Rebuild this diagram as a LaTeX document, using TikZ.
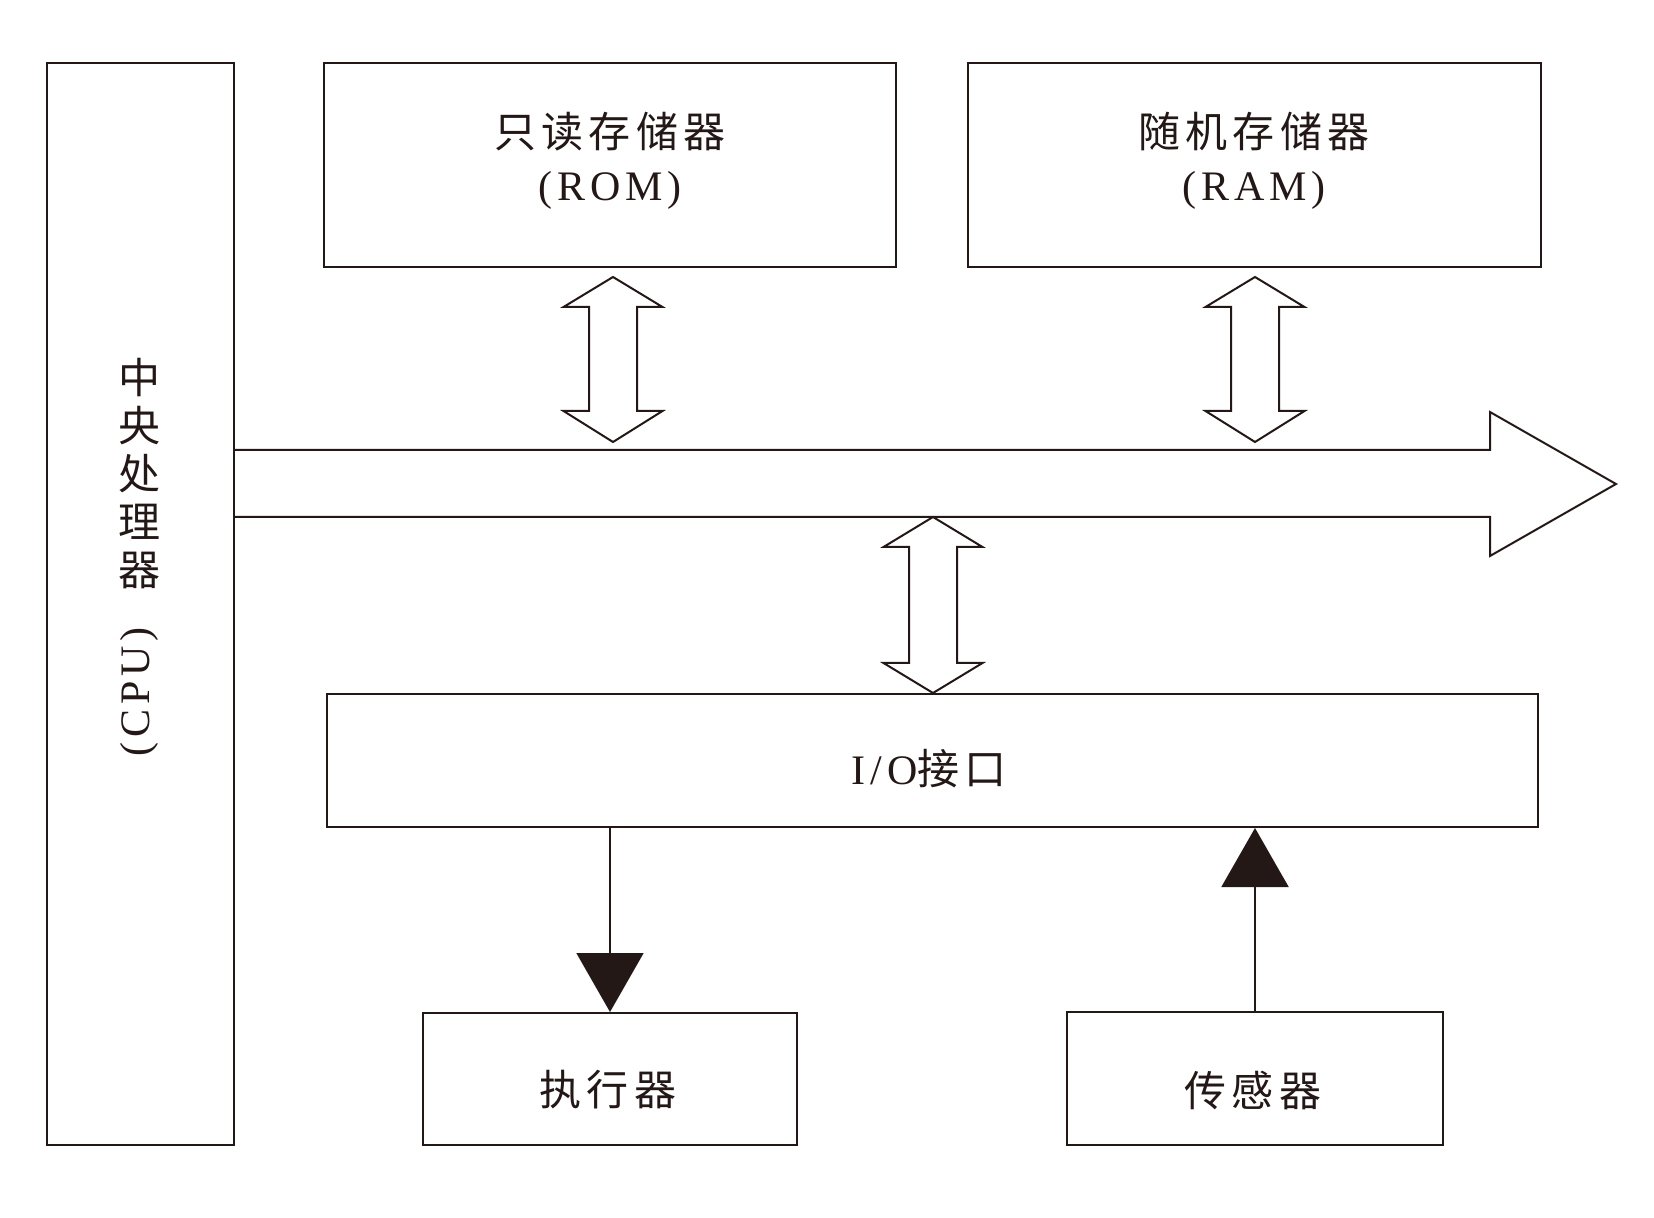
\documentclass[tikz,border=0pt]{standalone}
\usepackage{fontspec}
\setmainfont{Liberation Serif}[LetterSpace=12]
\newfontfamily\cjk{Noto Sans CJK SC}[LetterSpace=12]
\usetikzlibrary{arrows.meta}
\definecolor{ink}{HTML}{231815}
\newcommand\DblArrow[5]{%
  \draw[blk] (#1,#2) -- (#1+49.5,#3) -- (#1+24,#3) -- (#1+24,#4) -- (#1+49.5,#4)
    -- (#1,#5) -- (#1-49.5,#4) -- (#1-24,#4) -- (#1-24,#3) -- (#1-49.5,#3) -- cycle;}
\begin{document}
\begin{tikzpicture}[x=0.5pt,y=-0.5pt,color=ink,
  box/.style={draw,line width=1pt,inner sep=0pt,fill=white},
  blk/.style={draw,line width=1pt,line join=miter},
  lbl/.style={font=\fontsize{21}{24}\selectfont,inner sep=0pt},
  sig/.style={line width=1pt,-{Triangle[length=29.5pt,width=33.5pt]}}]
\useasboundingbox (0,0) rectangle (1654,1218);
% boxes
\node[box,minimum width=93.5pt,minimum height=541pt] (cpu) at (140.5,604) {};
\node[box,minimum width=286pt,minimum height=102pt] (rom) at (610,165) {};
\node[box,minimum width=286.5pt,minimum height=102pt] (ram) at (1254.5,165) {};
\node[box,minimum width=605.5pt,minimum height=66.5pt] (io) at (932.5,760.5) {};
\node[box,minimum width=187pt,minimum height=66pt] (act) at (610,1079) {};
\node[box,minimum width=188pt,minimum height=66.5pt] (sen) at (1255,1078.5) {};
% labels
\node[lbl,font=\fontsize{21}{24}\selectfont\cjk,align=center] (cpuT) at (139,474) {中\\央\\处\\理\\器};
\node[lbl,rotate=90] (cpuE) at (139,692) {(CPU)};
\node[lbl] (romT) at (610,132) {\cjk 只读存储器};
\node[lbl] (romE) at (610,190) {(ROM)};
\node[lbl] (ramT) at (1254,132) {\cjk 随机存储器};
\node[lbl] (ramE) at (1254,190) {(RAM)};
\node[lbl] (ioT) at (929,769) {I/O{\cjk 接口}};
\node[lbl] (actT) at (608,1090) {\cjk 执行器};
\node[lbl] (senT) at (1253,1090) {\cjk 传感器};
% bus
\draw[blk] (cpu.east |- 0,450) -- (1490,450) -- (1490,412) -- (1616,484)
  -- (1490,556) -- (1490,517) -- (cpu.east |- 0,517);
% double arrows
\DblArrow{613}{277}{307}{411}{442}
\DblArrow{1255}{277}{307}{411}{442}
\DblArrow{933}{517}{547}{663}{693}
% signal arrows
\draw[sig] (io.south -| act.north) -- (act.north);
\draw[sig] (sen.north) -- (io.south -| sen.north);
\end{tikzpicture}
\end{document}
